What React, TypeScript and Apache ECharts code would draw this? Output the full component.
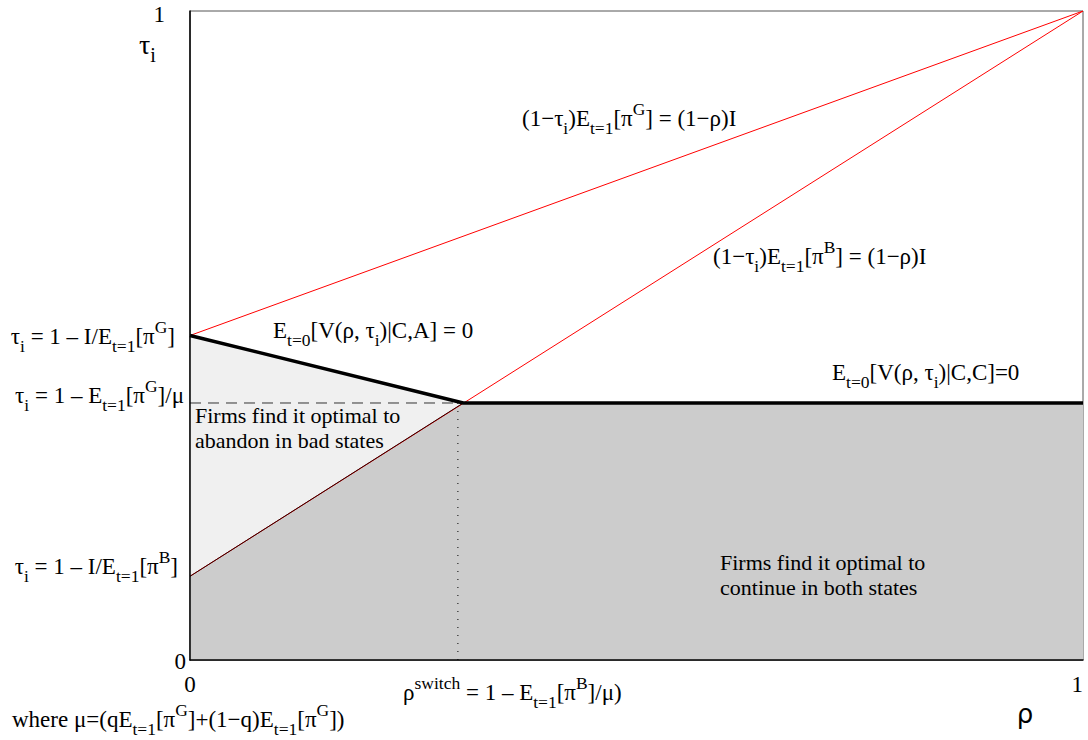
import React, { useEffect, useRef } from 'react';
import * as echarts from 'echarts';

// ---- values ----
const rhoTicks = [0, 1];
const tauTicks = [0, 1];
const tauG0 = 0.5;      // 1 - I/E[pi^G]
const tauMu = 0.396;    // 1 - E[pi^G]/mu
const tauB0 = 0.129;    // 1 - I/E[pi^B]
const rhoSwitch = 0.306; // kink of the boundary
const rhoDotted = 0.3;   // dotted marker of rho^switch

const goodLine = [[0, tauG0], [1, 1]];
const badLine = [[0, tauB0], [1, 1]];
const badLineLower = [[0, tauB0], [rhoSwitch, tauMu]];
const abandonBoundary = [[0, tauG0], [rhoSwitch, tauMu], [1, tauMu]];
const continueBoundary = [[0, tauB0], [rhoSwitch, tauMu], [1, tauMu]];
const abandonTop = [[0, tauG0], [rhoSwitch, tauMu]];
const dashedLevel = [[0, tauMu], [rhoSwitch, tauMu]];
const dottedSwitch = [[rhoDotted, 0], [rhoDotted, tauMu]];

const SERIF = '"Liberation Serif", "Times New Roman", serif';
const FS = 22;
const MFS = 23;
const SFS = 17.5;

function toRich(s: string): string {
  let out = '';
  let buf = '';
  const flush = () => {
    if (buf) out += `{m|${buf}}`;
    buf = '';
  };
  let i = 0;
  while (i < s.length) {
    const ch = s[i];
    if (ch === '_' || ch === '^') {
      flush();
      let grp = '';
      if (s[i + 1] === '{') {
        const j = s.indexOf('}', i + 2);
        grp = s.slice(i + 2, j);
        i = j + 1;
      } else {
        grp = s[i + 1];
        i += 2;
      }
      out += `{${ch === '_' ? 's' : 'p'}|${grp}}`;
    } else {
      buf += ch;
      i++;
    }
  }
  flush();
  return out;
}

function richStyles(size: number, sub: number, lh: number) {
  return {
    m: { fontFamily: SERIF, fontSize: size, lineHeight: lh, verticalAlign: 'middle', color: '#000' },
    s: { fontFamily: SERIF, fontSize: sub, lineHeight: sub + 1, verticalAlign: 'bottom', color: '#000' },
    p: { fontFamily: SERIF, fontSize: sub, lineHeight: sub + 1, verticalAlign: 'top', color: '#000' },
  };
}

function mathText(src: string, x: number, y: number, align: string, size = MFS, sub = SFS, lh = 37) {
  return {
    type: 'text',
    x,
    y,
    silent: true,
    z: 20,
    style: {
      text: toRich(src),
      rich: richStyles(size, sub, lh),
      align,
      verticalAlign: 'middle',
      fill: '#000',
    },
  };
}

function plainText(src: string, x: number, y: number) {
  return {
    type: 'text',
    x,
    y,
    silent: true,
    z: 20,
    style: {
      text: src,
      font: `${FS}px ${SERIF}`,
      lineHeight: 25,
      align: 'left',
      verticalAlign: 'top',
      fill: '#000',
    },
  };
}

export default function App() {
  const ref = useRef<HTMLDivElement>(null);
  useEffect(() => {
    if (!ref.current) return;
    const chart = echarts.init(ref.current, undefined, { renderer: 'svg' });
    const line = (data: number[][], color: string, width: number, z: number, type: any = 'solid') => ({
      type: 'line',
      data,
      symbol: 'none',
      silent: true,
      z,
      lineStyle: { color, width, type },
    });
    chart.setOption({
      animation: false,
      grid: {
        left: 190,
        right: 5,
        top: 11,
        bottom: 80,
        show: true,
        borderColor: '#555',
        borderWidth: 1,
        backgroundColor: 'transparent',
      },
      xAxis: {
        type: 'value',
        min: rhoTicks[0],
        max: rhoTicks[1],
        interval: 1,
        z: 10,
        axisLine: { show: true, lineStyle: { color: '#000', width: 1.5 } },
        axisTick: { show: false },
        splitLine: { show: false },
        axisLabel: {
          margin: 13,
          fontFamily: SERIF,
          fontSize: MFS,
          color: '#000',
          alignMaxLabel: 'right',
        },
      },
      yAxis: {
        type: 'value',
        min: tauTicks[0],
        max: tauTicks[1],
        interval: 1,
        z: 10,
        axisLine: { show: true, lineStyle: { color: '#000', width: 1.5 } },
        axisTick: { show: false },
        splitLine: { show: false },
        axisLabel: {
          margin: 4,
          fontFamily: SERIF,
          fontSize: MFS,
          color: '#000',
          formatter: (v: number) => (v === 1 ? '{one|1}' : '{zero|0}'),
          rich: {
            one: { fontFamily: SERIF, fontSize: MFS, padding: [6, 21, 0, 0] },
            zero: { fontFamily: SERIF, fontSize: MFS, padding: [2, 0, 0, 0] },
          },
        },
      },
      series: [
        {
          type: 'line',
          data: abandonTop,
          symbol: 'none',
          silent: true,
          z: 1,
          lineStyle: { width: 0 },
          areaStyle: { color: '#f0f0f0', opacity: 1 },
        },
        {
          type: 'line',
          data: continueBoundary,
          symbol: 'none',
          silent: true,
          z: 2,
          lineStyle: { width: 0 },
          areaStyle: { color: '#cccccc', opacity: 1 },
        },
        line(dottedSwitch, '#000', 1, 3, [1, 7]),
        line(dashedLevel, '#333', 1, 3, [11, 7]),
        line(goodLine, '#ff0000', 1, 4),
        line(badLine, '#ff0000', 1, 4),
        line(badLineLower, '#2a0000', 1, 5),
        line(abandonBoundary, '#000', 3.5, 6),
      ],
      graphic: [
        mathText('τ_i', 139, 44, 'left', 28, 20, 42),
        {
          type: 'text',
          x: 1025,
          y: 714,
          silent: true,
          style: { text: 'ρ', font: '26px "DejaVu Sans", sans-serif', align: 'center', verticalAlign: 'middle', fill: '#000' },
        },
        mathText('τ_i = 1 – I/E_{t=1}[π^G]', 175, 336, 'right'),
        mathText('τ_i = 1 – E_{t=1}[π^G]/μ', 184, 395, 'right'),
        mathText('τ_i = 1 – I/E_{t=1}[π^B]', 178, 566, 'right'),
        mathText('where μ=(qE_{t=1}[π^G]+(1−q)E_{t=1}[π^G])', 12, 719, 'left'),
        mathText('ρ^{switch} = 1 – E_{t=1}[π^B]/μ)', 403, 692, 'left'),
        mathText('(1−τ_i)E_{t=1}[π^G] = (1−ρ)I', 522, 118, 'left'),
        mathText('(1−τ_i)E_{t=1}[π^B] = (1−ρ)I', 713, 256, 'left'),
        mathText('E_{t=0}[V(ρ, τ_i)|C,A] = 0', 273, 330, 'left'),
        mathText('E_{t=0}[V(ρ, τ_i)|C,C]=0', 832, 372, 'left'),
        plainText('Firms find it optimal to\nabandon in bad states', 195, 403),
        plainText('Firms find it optimal to\ncontinue in both states', 720, 550),
      ],
    });
    return () => chart.dispose();
  }, []);
  return (
    <div
      ref={ref}
      style={{ position: 'fixed', left: 0, top: 0, width: 1088, height: 740, background: '#fff' }}
    />
  );
}
